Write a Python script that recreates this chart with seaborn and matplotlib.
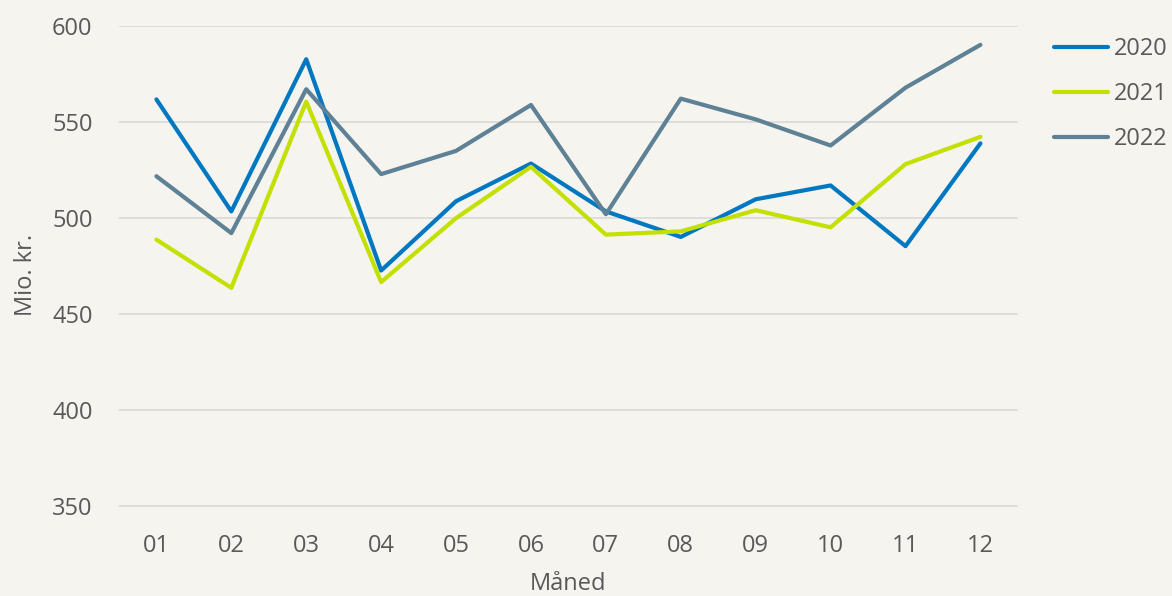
import pandas as pd
import numpy as np
import matplotlib
matplotlib.use("Agg")
import matplotlib.pyplot as plt
import seaborn as sns

months = ["01", "02", "03", "04", "05", "06", "07", "08", "09", "10", "11", "12"]
v2020 = [561.6, 503.3, 582.5, 472.5, 508.6, 528.2, 503.3, 490.0, 509.6, 516.8, 485.2, 538.7]
v2021 = [488.6, 463.5, 560.4, 466.5, 499.8, 526.5, 491.2, 492.9, 503.9, 495.0, 527.9, 542.1]
v2022 = [521.6, 492.0, 566.9, 522.7, 534.8, 558.7, 501.8, 562.0, 551.2, 537.6, 567.7, 590.0]
years = ["2020", "2021", "2022"]
yticks = [350, 400, 450, 500, 550, 600]

bg = "#F5F4EF"
txt = "#595959"
palette = {"2020": "#0078C1", "2021": "#C3E000", "2022": "#5E8196"}

df = pd.DataFrame({"Måned": months * 3,
                   "value": v2020 + v2021 + v2022,
                   "year": np.repeat(years, len(months))})

sns.set_style("white")
plt.rcParams["font.family"] = ["Open Sans", "DejaVu Sans"]
fs = 17

fig = plt.figure(figsize=(11.72, 5.96), dpi=100, facecolor=bg)
ax = fig.add_axes([0.1015, 0.119, 0.767, 0.838], facecolor=bg)

sns.lineplot(data=df, x="Måned", y="value", hue="year", palette=palette,
             linewidth=3, sort=False, ax=ax, legend=False)

ax.set_xlim(-0.5, len(months) - 0.5)
ax.set_ylim(340, 600)
ax.set_yticks(yticks)
ax.grid(axis="y", color="#D9D9D9", linewidth=1.2)
ax.set_axisbelow(True)
for s in ax.spines.values():
    s.set_visible(False)
ax.tick_params(length=0, labelsize=fs, colors=txt)
ax.tick_params(axis="x", pad=6.5)
ax.tick_params(axis="y", pad=19)
ax.set_xlabel("Måned", fontsize=fs, color=txt, labelpad=10)
ax.set_ylabel("Mio. kr.", fontsize=fs, color=txt, labelpad=10)

handles = [plt.Line2D([], [], color=palette[y], linewidth=3) for y in years]
leg = fig.legend(handles, years, loc="upper left", bbox_to_anchor=(0.889, 0.958),
                 frameon=False, fontsize=fs, handlelength=2.3, handletextpad=0.25,
                 labelspacing=0.9, labelcolor=txt, borderpad=0)

fig.savefig("out.png", dpi=100, facecolor=bg)
